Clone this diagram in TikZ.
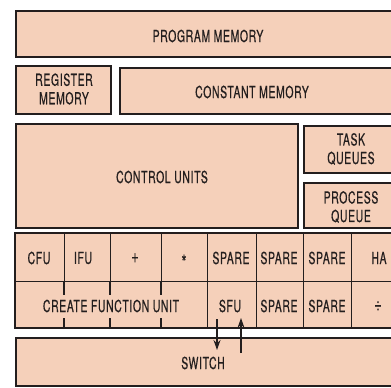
\documentclass[tikz,border=0pt]{standalone}
\usepackage{fontspec}
\setmainfont{TeX Gyre Heros}[FakeStretch=0.63, FakeBold=0.5, LetterSpace=4]
\usetikzlibrary{arrows.meta}
\definecolor{peach}{RGB}{245,208,186}
\definecolor{ink}{RGB}{35,30,30}
\tikzset{
  blk/.style={draw=ink, fill=peach, line width=1.8pt, inner sep=0pt, align=center, anchor=north west},
  cell/.style={draw=ink, fill=peach, line width=1.2pt, inner sep=0pt, anchor=north west, minimum height=48pt},
  lbl/.style={text=ink, align=center, inner sep=0pt},
  sym/.style={lbl, font=\fontsize{20}{20}\selectfont},
  tick/.style={draw=ink, line width=1.2pt},
  flow/.style={draw=ink, line width=1.2pt, -{Stealth[length=10pt,width=7pt]}}
}
\begin{document}
\begin{tikzpicture}[x=1pt, y=-1pt, font=\fontsize{16.5}{18.5}\selectfont]
    \useasboundingbox (0,0) rectangle (391,388);
    \clip (0,0) rectangle (391,388);

    % Memories
    \node[blk, minimum width=387pt, minimum height=46pt] (pmem) at (15,10) {};
    \node[lbl] at (208,36) {PROGRAM MEMORY};
    \node[blk, minimum width=95pt, minimum height=48pt] (rmem) at (15,65) {};
    \node[lbl] at (64,89) {REGISTER\\MEMORY};
    \node[blk, minimum width=283pt, minimum height=46pt] (cmem) at (119,67) {};
    \node[lbl] at (252,92) {CONSTANT MEMORY};

    % Control units and queues
    \node[blk, minimum width=282pt, minimum height=104pt] (ctrl) at (15,123) {};
    \node[lbl] at (162,177) {CONTROL UNITS};
    \node[blk, minimum width=99pt, minimum height=47pt] (tq) at (303,125) {};
    \node[lbl] at (351,149) {TASK\\QUEUES};
    \node[blk, minimum width=99pt, minimum height=45pt] (pq) at (303,182) {};
    \node[lbl] at (351,207) {PROCESS\\QUEUE};

    % Function units, upper row
    \node[cell, minimum width=49pt] (cfu) at (15,233) {};
    \node[cell, minimum width=46pt] (ifu) at (64,233) {};
    \node[cell, minimum width=51pt] (add) at (110,233) {};
    \node[cell, minimum width=46pt] (mul) at (161,233) {};
    \node[cell, minimum width=49pt] (spa) at (207,233) {};
    \node[cell, minimum width=47pt] (spb) at (256,233) {};
    \node[cell, minimum width=48pt] (spc) at (303,233) {};
    \node[cell, minimum width=51pt] (ha) at (351,233) {};
    \node[lbl] at (39,258) {CFU};
    \node[lbl] at (83,258) {IFU};
    \node[sym] at (135,258) {+};
    \node[sym] at (184,262) {*};
    \node[lbl] at (231,258) {SPARE};
    \node[lbl] at (279,258) {SPARE};
    \node[lbl] at (327,258) {SPARE};
    \node[lbl] at (379,258) {HA};

    % Function units, lower row
    \node[cell, minimum width=192pt, minimum height=47pt] (cfun) at (15,281) {};
    \node[cell, minimum width=49pt, minimum height=47pt] (sfu) at (207,281) {};
    \node[cell, minimum width=47pt, minimum height=47pt] (spd) at (256,281) {};
    \node[cell, minimum width=48pt, minimum height=47pt] (spe) at (303,281) {};
    \node[cell, minimum width=51pt, minimum height=47pt] (div) at (351,281) {};
    \node[lbl] at (111,306) {CREATE FUNCTION UNIT};
    \node[lbl] at (230,306) {SFU};
    \node[lbl] at (279,306) {SPARE};
    \node[lbl] at (327,306) {SPARE};
    \node[sym] at (378,306) {÷};
    \foreach \u in {ifu, add, mul} {
      \draw[tick] (\u.south west) -- ++(0,13);
      \draw[tick] (cfun.south -| \u.west) -- ++(0,-11);
    }
    \draw[draw=ink, line width=1.8pt] (cfu.north west) rectangle (402,328);

    % Switch
    \node[blk, minimum width=387pt, minimum height=48pt] (sw) at (15,337) {};
    \node[lbl] at (203,363) {SWITCH};
    \coordinate (dn) at (217,350);
    \coordinate (up) at (241,318);
    \draw[flow] (sfu.south -| dn) ++(0,-10) -- (dn);
    \draw[flow] (sw.north -| up) ++(0,16) -- (up);
\end{tikzpicture}
\end{document}
